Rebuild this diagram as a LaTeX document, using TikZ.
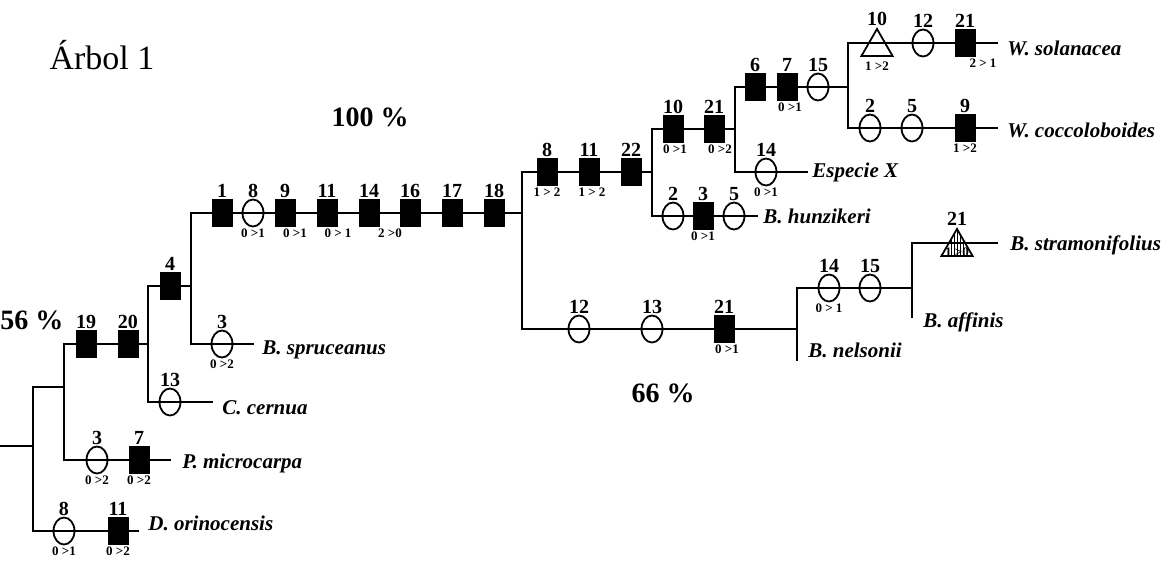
\documentclass[tikz,border=0pt]{standalone}
\usepackage{fontspec}
\setmainfont{Liberation Serif}
\usetikzlibrary{shapes.geometric}

\begin{document}
\begin{tikzpicture}[
  x=0.5pt, y=-0.5pt,
  branch/.style={line width=1.2pt, line cap=rect},
  sq/.style={rectangle, fill=black, minimum width=10.5pt, minimum height=14pt, inner sep=0pt},
  ell/.style={ellipse, draw, line width=0.9pt, minimum width=10.5pt, minimum height=13.5pt, inner sep=0pt},
  tri/.style={regular polygon, regular polygon sides=3, draw, line width=0.9pt, minimum size=18pt, inner sep=0pt, yshift=-2pt},
  hatch/.style={path picture={\foreach \dx in {-3,-1.5,0,1.5,3}
      \draw[line width=0.5pt] ([xshift=\dx pt]path picture bounding box.north) -- ([xshift=\dx pt]path picture bounding box.south);}},
  num/.style={font=\bfseries\fontsize{10}{10}\selectfont, inner sep=0.5pt},
  chg/.style={font=\bfseries\fontsize{6.5}{6.5}\selectfont, inner sep=0.5pt},
  taxon/.style={font=\bfseries\itshape\fontsize{10.5}{12}\selectfont, anchor=west, inner sep=0pt},
  pct/.style={font=\bfseries\fontsize{14}{14}\selectfont, inner sep=0pt}
]
\useasboundingbox (0,0) rectangle (1175,563);

% junctions and branch ends
\coordinate (root) at (0,446);
\coordinate (j1) at (33,446);
\coordinate (j2) at (64,387);
\coordinate (j3) at (148,344);
\coordinate (j4) at (191,286);
\coordinate (j5) at (522,213);
\coordinate (j6) at (652,172);
\coordinate (j7) at (735,129);
\coordinate (j8) at (848,87);
\coordinate (j9) at (797,329);
\coordinate (j10) at (912,288);
\coordinate (oriEnd) at (138,531);
\coordinate (micEnd) at (170,460);
\coordinate (cerEnd) at (212,402);
\coordinate (sprEnd) at (253,344);
\coordinate (hunEnd) at (757,216);
\coordinate (espEnd) at (807,172);
\coordinate (solEnd) at (997,43);
\coordinate (cocEnd) at (997,128);
\coordinate (strEnd) at (997,243);
\coordinate (nelEnd) at (797,360);
\coordinate (affEnd) at (912,317);

% tree
\draw[branch] (root) -- (j1);
\draw[branch] (j1) |- (j2);
\draw[branch] (j1) |- (oriEnd);
\draw[branch] (j2) |- (j3);
\draw[branch] (j2) |- (micEnd);
\draw[branch] (j3) |- (j4);
\draw[branch] (j3) |- (cerEnd);
\draw[branch] (j4) |- (j5);
\draw[branch] (j4) |- (sprEnd);
\draw[branch] (j5) |- (j6);
\draw[branch] (j5) |- (j9);
\draw[branch] (j6) |- (j7);
\draw[branch] (j6) |- (hunEnd);
\draw[branch] (j7) |- (j8);
\draw[branch] (j7) |- (espEnd);
\draw[branch] (j8) |- (solEnd);
\draw[branch] (j8) |- (cocEnd);
\draw[branch] (j9) |- (j10);
\draw[branch] (j9) -- (nelEnd);
\draw[branch] (j10) |- (strEnd);
\draw[branch] (j10) -- (affEnd);

% characters, basal part
\node[ell, label={[num]above:8}, label={[chg]below:0 >1}] (ori8) at (64,531) {};
\node[sq, label={[num]above:11}, label={[chg]below:0 >2}] (ori11) at (118,531) {};
\node[ell, label={[num]above:3}, label={[chg]below:0 >2}] (mic3) at (97,460) {};
\node[sq, label={[num]above:7}, label={[chg]below:0 >2}] (mic7) at (139,460) {};
\node[sq, label={[num]above:19}] (b19) at (86,344) {};
\node[sq, label={[num]above:20}] (b20) at (128,344) {};
\node[ell, label={[num]above:13}] (cer13) at (170,402) {};
\node[sq, label={[num]above:4}] (b4) at (170,286) {};
\node[ell, label={[num]above:3}, label={[chg]below:0 >2}] (spr3) at (222,344) {};

% characters, main stem
\node[sq, label={[num]above:1}] (m1) at (222,213) {};
\node[ell, label={[num]above:8}, label={[chg]below:0 >1}] (m8) at (253,213) {};
\node[sq, label={[num]above:9}, label={[chg,xshift=5pt]below:0 >1}] (m9) at (285,213) {};
\node[sq, label={[num]above:11}, label={[chg,xshift=5.5pt]below:0 > 1}] (m11) at (327,213) {};
\node[sq, label={[num]above:14}, label={[chg,xshift=10.5pt]below:2 >0}] (m14) at (369,213) {};
\node[sq, label={[num]above:16}] (m16) at (410,213) {};
\node[sq, label={[num]above:17}] (m17) at (452,213) {};
\node[sq, label={[num]above:18}] (m18) at (494,213) {};

% characters, Brunfelsia clade
\node[ell, label={[num]above:12}] (n12) at (579,329) {};
\node[ell, label={[num]above:13}] (n13) at (652,329) {};
\node[sq, label={[num]above:21}, label={[chg,xshift=1.5pt]below:0 >1}] (n21) at (724,329) {};
\node[ell, label={[num]above:14}, label={[chg]below:0 > 1}] (a14) at (829,288) {};
\node[ell, label={[num]above:15}] (a15) at (870,288) {};
\node[tri, hatch, label={[num]above:21}, label={[chg,yshift=5pt]below:1 >0}] (str21) at (957,243) {};

% characters, upper clade
\node[sq, label={[num]above:8}, label={[chg]below:1 > 2}] (u8) at (547,172) {};
\node[sq, label={[num]above:11}, label={[chg,xshift=1.5pt]below:1 > 2}] (u11) at (589,172) {};
\node[sq, label={[num]above:22}] (u22) at (631,172) {};
\node[ell, label={[num]above:2}] (hun2) at (673,216) {};
\node[sq, label={[num]above:3}, label={[chg]below:0 >1}] (hun3) at (703,216) {};
\node[ell, label={[num]above:5}] (hun5) at (734,216) {};
\node[sq, label={[num]above:10}, label={[chg,xshift=1pt]below:0 >1}] (w10) at (673,129) {};
\node[sq, label={[num]above:21}, label={[chg,xshift=3pt]below:0 >2}] (w21) at (714,129) {};
\node[ell, label={[num]above:14}, label={[chg]below:0 >1}] (esp14) at (766,172) {};
\node[sq, label={[num]above:6}] (w6) at (755,87) {};
\node[sq, label={[num]above:7}, label={[chg,xshift=1.5pt]below:0 >1}] (w7) at (787,87) {};
\node[ell, label={[num]above:15}] (w15) at (818,87) {};
\node[tri, label={[num]above:10}, label={[chg,yshift=-2pt]below:1 >2}] (sol10) at (877,43) {};
\node[ell, label={[num]above:12}] (sol12) at (923,43) {};
\node[sq, label={[num]above:21}, label={[chg,xshift=9pt]below:2 > 1}] (sol21) at (965,43) {};
\node[ell, label={[num]above:2}] (coc2) at (870,128) {};
\node[ell, label={[num]above:5}] (coc5) at (912,128) {};
\node[sq, label={[num]above:9}, label={[chg]below:1 >2}] (coc9) at (965,128) {};

% taxa
\node[taxon] (ori) at (148,523) {D. orinocensis};
\node[taxon] (mic) at (182,463) {P. microcarpa};
\node[taxon] (cer) at (222,408) {C. cernua};
\node[taxon] (spr) at (262,350) {B. spruceanus};
\node[taxon] (hun) at (763,216) {B. hunzikeri};
\node[taxon] (esp) at (812,172) {Especie X};
\node[taxon] (sol) at (1007,48) {W. solanacea};
\node[taxon] (coc) at (1007,130) {W. coccoloboides};
\node[taxon] (str) at (1010,245) {B. stramonifolius};
\node[taxon] (aff) at (923,322) {B. affinis};
\node[taxon] (nel) at (808,350) {B. nelsonii};

% support values and title
\node[pct] (p56) at (32,320) {56 \%};
\node[pct] (p100) at (370,117) {100 \%};
\node[pct] (p66) at (663,393) {66 \%};
\node[font=\fontsize{17}{17}\selectfont, inner sep=0pt] (title) at (102,55) {Árbol 1};
\end{tikzpicture}
\end{document}
